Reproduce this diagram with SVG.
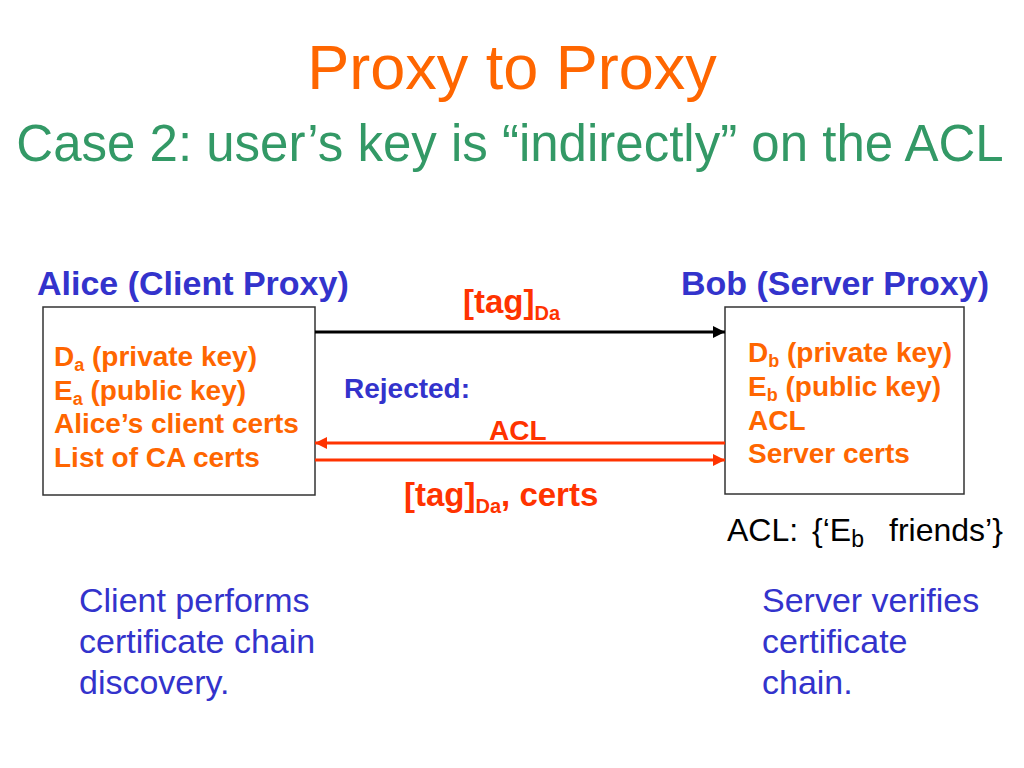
<svg xmlns="http://www.w3.org/2000/svg" width="1024" height="768" viewBox="0 0 1024 768">
<style>
text{font-family:"Liberation Sans",Arial,sans-serif}
.box{fill:#fff;stroke:#333;stroke-width:1.5}
.hdr{fill:#3333CC;font-weight:bold;font-size:34px}
.item{fill:#FF6600;font-weight:bold;font-size:28px}
.lbl{fill:#FF3300;font-weight:bold}
.note{fill:#3333CC;font-size:34px}
</style>
<defs>
<marker id="ab" viewBox="0 0 10 10" refX="10" refY="5" markerWidth="4" markerHeight="4" orient="auto-start-reverse"><path d="M0,0L10,5L0,10z" fill="#000"/></marker>
<marker id="ar" viewBox="0 0 10 10" refX="10" refY="5" markerWidth="4" markerHeight="4" orient="auto-start-reverse"><path d="M0,0L10,5L0,10z" fill="#FF3300"/></marker>
</defs>
<rect width="1024" height="768" fill="#fff"/>
<text x="512" y="89" text-anchor="middle" font-size="63" fill="#FF6600">Proxy to Proxy</text>
<text x="510" y="161" text-anchor="middle" font-size="51" fill="#339966">Case 2: user’s key is “indirectly” on the ACL</text>

<g id="alice">
<text x="37" y="295" class="hdr">Alice (Client Proxy)</text>
<rect x="43" y="307" width="272" height="188" class="box"/>
<text x="54" y="366" class="item">D<tspan font-size="18" dy="5">a</tspan><tspan dy="-5"> (private key)</tspan></text>
<text x="54" y="400" class="item">E<tspan font-size="18" dy="5">a</tspan><tspan dy="-5"> (public key)</tspan></text>
<text x="54" y="433" class="item">Alice’s client certs</text>
<text x="54" y="467" class="item">List of CA certs</text>
</g>

<g id="bob">
<text x="681" y="295" class="hdr">Bob (Server Proxy)</text>
<rect x="725" y="307" width="239" height="187" class="box"/>
<text x="748" y="362" class="item">D<tspan font-size="18" dy="5">b</tspan><tspan dy="-5"> (private key)</tspan></text>
<text x="748" y="396" class="item">E<tspan font-size="18" dy="5">b</tspan><tspan dy="-5"> (public key)</tspan></text>
<text x="748" y="430" class="item">ACL</text>
<text x="748" y="463" class="item">Server certs</text>
<text x="727" y="541" font-size="32" fill="#000">ACL: <tspan x="812">{‘E</tspan><tspan font-size="23" dy="6">b</tspan><tspan x="889" dy="-6">friends’}</tspan></text>
</g>

<g id="connectors">
<line x1="315" y1="332" x2="725" y2="332" stroke="#000" stroke-width="3" marker-end="url(#ab)"/>
<line x1="725" y1="443" x2="315" y2="443" stroke="#FF3300" stroke-width="3" marker-end="url(#ar)"/>
<line x1="315" y1="460" x2="725" y2="460" stroke="#FF3300" stroke-width="3" marker-end="url(#ar)"/>
<text x="463" y="313" class="lbl" font-size="33">[tag]<tspan font-size="20" dy="7">Da</tspan></text>
<text x="344" y="398" font-size="28" font-weight="bold" fill="#3333CC">Rejected:</text>
<text x="489" y="440" class="lbl" font-size="28">ACL</text>
<text x="404" y="506" class="lbl" font-size="33">[tag]<tspan font-size="20" dy="7">Da</tspan><tspan dy="-7">, certs</tspan></text>
</g>

<g id="notes">
<text x="79" y="612" class="note">Client performs</text>
<text x="79" y="653" class="note">certificate chain</text>
<text x="79" y="694" class="note">discovery.</text>
<text x="762" y="612" class="note">Server verifies</text>
<text x="762" y="653" class="note">certificate</text>
<text x="762" y="694" class="note">chain.</text>
</g>
</svg>
